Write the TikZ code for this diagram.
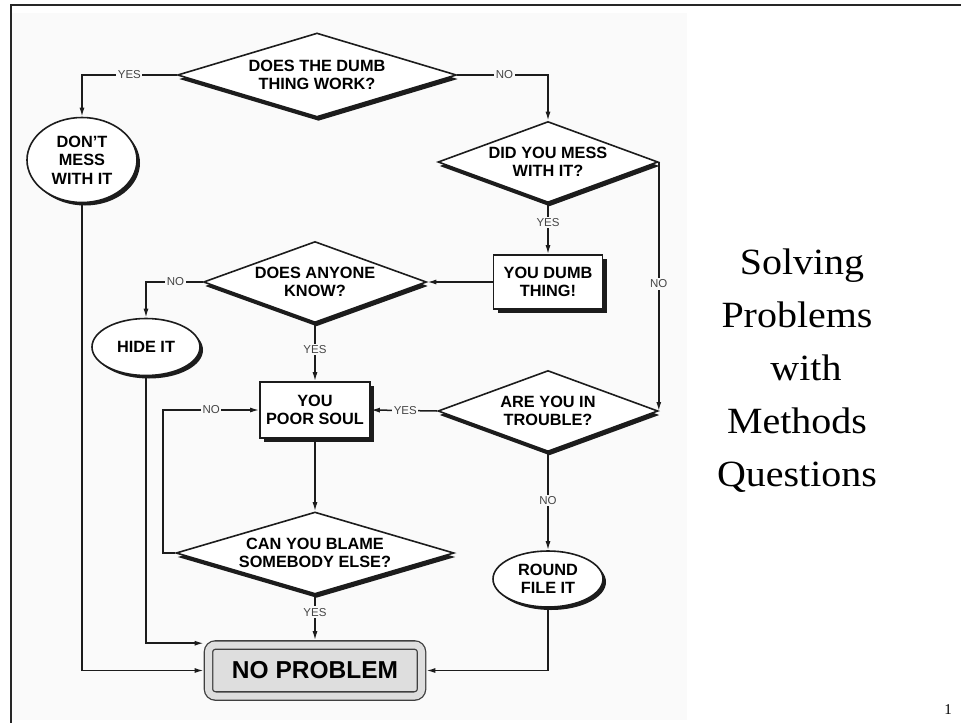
\documentclass[tikz,border=0pt]{standalone}
\usepackage{fontspec}
\setmainfont{Liberation Serif}
\setsansfont{Liberation Sans}
\newfontfamily\titlefont{Liberation Serif}[FakeStretch=1.08]
\usetikzlibrary{arrows.meta,shapes.geometric,shadows,calc}
\definecolor{ink}{HTML}{1C1C1C}
\definecolor{panel}{HTML}{FAFAFA}
\definecolor{labelgray}{HTML}{454545}
\definecolor{endfill}{HTML}{DEDEDE}
\newcommand{\chartfont}{\sffamily\bfseries\fontsize{16.3}{18.5}\selectfont}

\begin{document}
\begin{tikzpicture}[
  x=1pt, y=-1pt,
  >=Latex,
  flow/.style={-{Latex[length=9pt,width=5pt]}, line width=1.5pt, draw=ink},
  decision/.style={diamond, draw=ink, line width=1.6pt, fill=white, inner sep=0pt,
                   align=center, font=\chartfont,
                   drop shadow={shadow xshift=1.5pt, shadow yshift=-4pt, opacity=1, fill=ink}},
  process/.style={rectangle, draw=ink, line width=1.6pt, fill=white, inner sep=0pt,
                  align=center, font=\chartfont,
                  drop shadow={shadow xshift=4pt, shadow yshift=-4pt, opacity=1, fill=ink}},
  outcome/.style={ellipse, draw=ink, line width=1.6pt, fill=white, inner sep=0pt,
                  align=center, font=\chartfont,
                  drop shadow={shadow xshift=3pt, shadow yshift=-3pt, opacity=1, fill=ink}},
  terminal/.style={rectangle, rounded corners=7pt, draw=black!75, line width=1.3pt,
                   double=endfill, double distance=7pt, fill=endfill, inner sep=0pt,
                   outer sep=4.8pt, minimum width=213pt, minimum height=51pt,
                   font=\sffamily\bfseries\fontsize{24.5}{26}\selectfont},
  answer/.style={font=\sffamily\fontsize{11.5}{13}\selectfont, text=labelgray,
                 fill=panel, inner sep=1.5pt}
]
\useasboundingbox (0,0) rectangle (961,723);

% slide frame and chart panel
\fill[panel] (12,13) rectangle (687,720);
\draw[line width=2pt, black!85] (961,5) -- (11,5) -- (11,723);

% decisions and outcomes
\node[decision, aspect=3.3, minimum width=279pt, minimum height=84pt] (dumb) at (317,75)
  {DOES THE DUMB\\THING WORK?};
\node[outcome, minimum width=110pt, minimum height=85pt] (dontmess) at (82,160)
  {DON'T\\MESS\\WITH IT};
\node[decision, aspect=2.7, minimum width=220pt, minimum height=81pt] (messed) at (548,162)
  {DID YOU MESS\\WITH IT?};
\node[process, minimum width=109pt, minimum height=54pt] (dumbthing) at (548,282)
  {YOU DUMB\\THING!};
\node[decision, aspect=2.75, minimum width=223pt, minimum height=81pt] (anyone) at (315,282)
  {DOES ANYONE\\KNOW?};
\node[outcome, minimum width=108pt, minimum height=57pt] (hide) at (146,347) {HIDE IT};
\node[decision, aspect=2.7, minimum width=220pt, minimum height=81pt] (trouble) at (548,411)
  {ARE YOU IN\\TROUBLE?};
\node[process, minimum width=110pt, minimum height=56pt] (poorsoul) at (315,410)
  {YOU\\POOR SOUL};
\node[decision, aspect=3.3, minimum width=278pt, minimum height=82pt] (blame) at (315,553)
  {CAN YOU BLAME\\SOMEBODY ELSE?};
\node[outcome, minimum width=110pt, minimum height=56pt] (roundfile) at (548,579)
  {ROUND\\FILE IT};
\node[terminal] (noproblem) at (315,670.5) {NO PROBLEM};

% connectors
\draw[flow] (dumb.west) -| node[answer, pos=.25] {YES} (dontmess.north);
\draw[flow] (dumb.east) -| node[answer, pos=.26] {NO} (messed.north);
\draw[flow] (messed.south) -- node[answer, pos=.38] {YES} (dumbthing.north);
\draw[flow] (dumbthing.west) -- (anyone.east);
\draw[flow] (messed.east) -- node[answer, pos=.49] {NO} (trouble.east);
\draw[flow] (trouble.west) -- node[answer, pos=.48] {YES} (poorsoul.east);
\draw[flow] (anyone.west) -| node[answer, pos=.24] {NO} (hide.north);
\draw[flow] (anyone.south) -- node[answer, pos=.45] {YES} (poorsoul.north);
\draw[flow] (poorsoul.south) -- (blame.north);
\draw[flow] (blame.west) -- ++(-12,0) |- node[answer, pos=.75] {NO} (poorsoul.west);
\draw[flow] (blame.south) -- node[answer, pos=.38] {YES} (noproblem.north);
\draw[flow] (trouble.south) -- node[answer, pos=.49] {NO} (roundfile.north);
\draw[flow] (roundfile.south) |- (noproblem.east);
\draw[flow] (dontmess.south) |- (noproblem.west);
\draw[flow] (hide.south) |- ([yshift=-3pt]noproblem.north west);

% slide title and page number
\node[anchor=north, inner sep=0pt, align=center,
      font=\titlefont\fontsize{37}{53}\selectfont] (title) at (797,249)
  {\hspace*{10pt}Solving\\Problems\\\hspace*{18pt}with\\Methods\\Questions};
\node[font=\fontsize{15}{17}\selectfont] (pagenum) at (948,710) {1};
\end{tikzpicture}
\end{document}
